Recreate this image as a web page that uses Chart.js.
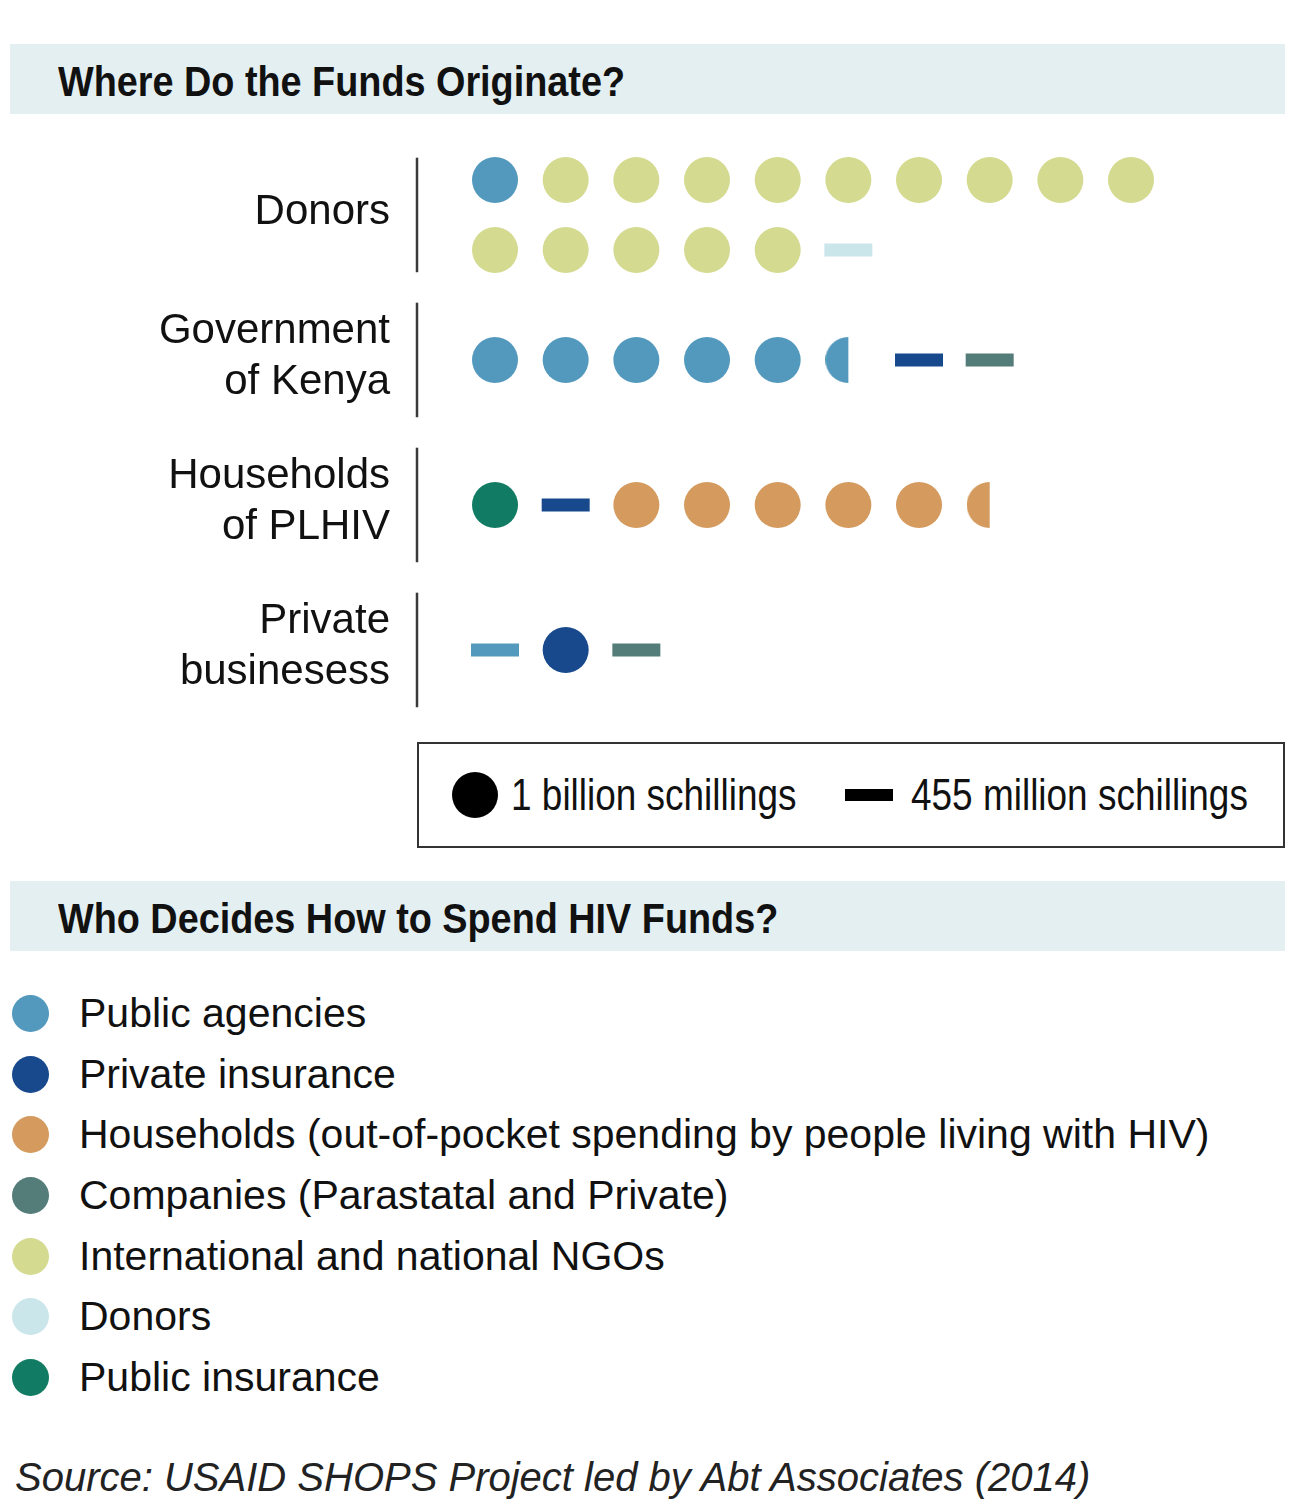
<!DOCTYPE html>
<html>
<head>
<meta charset="utf-8">
<script src="https://cdn.jsdelivr.net/npm/chart.js@4.4.1/dist/chart.umd.min.js"></script>
<style>
  body { margin: 0; background: #fff; font-family: "Liberation Sans", Arial, sans-serif; color: #111; }
  #page { position: relative; width: 1305px; height: 1506px; overflow: hidden; }
  .band { position: absolute; left: 10px; width: 1275px; height: 70px; background: #e4eff2; }
  .band h2 { position: absolute; left: 48px; top: 3px; margin: 0; font-size: 42px; font-weight: bold; line-height: 70px;
             white-space: nowrap; transform: scaleX(0.9); transform-origin: left center; }
  #chart { position: absolute; left: 0; top: 130px; }
  #unitBox { position: absolute; left: 417px; top: 742px; width: 864px; height: 102px; border: 2px solid #333; }
  #unitBox .dot { position: absolute; left: 33px; top: 28px; width: 46px; height: 46px; border-radius: 50%; background: #000; }
  #unitBox .dash { position: absolute; left: 426px; top: 45px; width: 48px; height: 12px; background: #000; }
  #unitBox span { position: absolute; top: 0; line-height: 102px; font-size: 44px; white-space: nowrap;
                  transform: scaleX(0.84); transform-origin: left center; }
  #categoryLegend { position: absolute; left: 0; top: 983px; }
  #categoryLegend .item { position: relative; height: 60.7px; }
  #categoryLegend .swatch { position: absolute; left: 11.5px; top: 11.85px; width: 37px; height: 37px; border-radius: 50%; }
  #categoryLegend .name { position: absolute; left: 79px; top: 0; line-height: 60.7px; font-size: 41px; white-space: nowrap; }
  #source { position: absolute; left: 15px; top: 1452px; font-size: 40px; line-height: 50px; font-style: italic; color: #222; white-space: nowrap; }
</style>
</head>
<body>
<div id="page">
  <div class="band" style="top:44px"><h2>Where Do the Funds Originate?</h2></div>
  <canvas id="chart" width="1305" height="600"></canvas>
  <div id="unitBox">
    <div class="dot"></div><span id="dotText" style="left:92px"></span>
    <div class="dash"></div><span id="dashText" style="left:492px"></span>
  </div>
  <div class="band" style="top:881px"><h2>Who Decides How to Spend HIV Funds?</h2></div>
  <div id="categoryLegend"></div>
  <div id="source">Source: USAID SHOPS Project led by Abt Associates (2014)</div>
</div>

<script>
// who decides how the money is spent
const categories = [
  "Public agencies",
  "Private insurance",
  "Households (out-of-pocket spending by people living with HIV)",
  "Companies (Parastatal and Private)",
  "International and national NGOs",
  "Donors",
  "Public insurance"
]
const categoryColors = ["#5399bd", "#17498c", "#d49a5e", "#547d79", "#d4da8f", "#cbe6eb", "#117c63"]

// where the money comes from
const sources = ["Donors", "Government of Kenya", "Households of PLHIV", "Private businesess"]
const sourceLabels = [["Donors"], ["Government", "of Kenya"], ["Households", "of PLHIV"], ["Private", "businesess"]]

// billions of schillings, in drawing order
const donorsFunds = [["Public agencies", 1], ["International and national NGOs", 14], ["Donors", 0.455]]
const governmentFunds = [["Public agencies", 5.5], ["Private insurance", 0.455], ["Companies (Parastatal and Private)", 0.455]]
const householdFunds = [["Public insurance", 1], ["Private insurance", 0.455], ["Households (out-of-pocket spending by people living with HIV)", 5.5]]
const businessFunds = [["Public agencies", 0.455], ["Private insurance", 1], ["Companies (Parastatal and Private)", 0.455]]
const allFunds = [donorsFunds, governmentFunds, householdFunds, businessFunds]

const DOT_VALUE = 1      // billion
const DASH_VALUE = 0.455 // billion
const PER_LINE = 10
const LINE_GAP = 0.483

const FONT = "'Liberation Sans', Arial, sans-serif"

document.getElementById("dotText").textContent = `${DOT_VALUE} billion schillings`
document.getElementById("dashText").textContent = `${Math.round(DASH_VALUE * 1000)} million schillings`

// split an amount into whole dots, a half dot or a dash
function toMarks(funds) {
  const marks = []
  funds.forEach(([cat, amount]) => {
    let rest = amount
    while (rest >= DOT_VALUE - 1e-9) {
      marks.push({ cat, style: "dot" })
      rest -= DOT_VALUE
    }
    if (Math.abs(rest - DASH_VALUE) < 0.01) marks.push({ cat, style: "dash" })
    else if (rest > 0.01) marks.push({ cat, style: "half" })
  })
  return marks
}

const datasets = categories.map((name, i) => ({
  label: name,
  data: [],
  backgroundColor: categoryColors[i],
  borderColor: categoryColors[i]
}))

allFunds.forEach((funds, row) => {
  const marks = toMarks(funds)
  const lines = Math.ceil(marks.length / PER_LINE)
  marks.forEach((m, i) => {
    const line = Math.floor(i / PER_LINE)
    datasets[categories.indexOf(m.cat)].data.push({
      x: i % PER_LINE,
      y: row + (line - (lines - 1) / 2) * LINE_GAP,
      style: m.style
    })
  })
})

const halfCache = {}
function halfDot(color) {
  if (!halfCache[color]) {
    const c = document.createElement("canvas")
    c.width = 46
    c.height = 46
    const g = c.getContext("2d")
    g.fillStyle = color
    g.beginPath()
    g.arc(23, 23, 23, Math.PI / 2, Math.PI * 1.5)
    g.closePath()
    g.fill()
    halfCache[color] = c
  }
  return halfCache[color]
}

const markStyle = (c) => (c.raw && c.raw.style) || "dot"

// short vertical rule left of each source row
const dividers = {
  id: "dividers",
  afterDatasetsDraw(chart) {
    const { ctx, chartArea, scales } = chart
    ctx.save()
    ctx.strokeStyle = "#3a3a3a"
    ctx.lineWidth = 2.5
    sources.forEach((_, i) => {
      ctx.beginPath()
      ctx.moveTo(chartArea.left, scales.y.getPixelForValue(i - 0.395))
      ctx.lineTo(chartArea.left, scales.y.getPixelForValue(i + 0.395))
      ctx.stroke()
    })
    ctx.restore()
  }
}

new Chart(document.getElementById("chart"), {
  type: "scatter",
  data: { datasets },
  options: {
    responsive: false,
    animation: false,
    events: [],
    layout: { autoPadding: false, padding: { left: 0, right: 20, top: 0, bottom: 0 } },
    elements: {
      point: {
        pointStyle: (c) => {
          const s = markStyle(c)
          if (s === "dash") return "line"
          if (s === "half") return halfDot(c.dataset.backgroundColor)
          return "circle"
        },
        radius: (c) => markStyle(c) === "dash" ? 24 : 23,
        borderWidth: (c) => markStyle(c) === "dash" ? 13 : 0
      }
    },
    scales: {
      x: { type: "linear", min: -1.104, max: 11.179, display: false },
      y: {
        type: "linear",
        reverse: true,
        min: -0.586,
        max: 3.552,
        afterFit: (s) => {
          s.width = 417
          s.paddingTop = 0
          s.paddingBottom = 0
        },
        afterBuildTicks: (s) => { s.ticks = sources.map((_, i) => ({ value: i - 0.02 })) },
        ticks: {
          padding: 27,
          color: "#111",
          font: { family: FONT, size: 42, lineHeight: 1.215 },
          callback: (v, i) => sourceLabels[i]
        },
        grid: { display: false, drawTicks: false },
        border: { display: false }
      }
    },
    plugins: { legend: { display: false }, tooltip: { enabled: false } }
  },
  plugins: [dividers]
})

// category legend, built from the same arrays
const legendEl = document.getElementById("categoryLegend")
categories.forEach((name, i) => {
  const item = document.createElement("div")
  item.className = "item"
  const sw = document.createElement("div")
  sw.className = "swatch"
  sw.style.background = categoryColors[i]
  const label = document.createElement("div")
  label.className = "name"
  label.textContent = name
  item.appendChild(sw)
  item.appendChild(label)
  legendEl.appendChild(item)
})
</script>
</body>
</html>
